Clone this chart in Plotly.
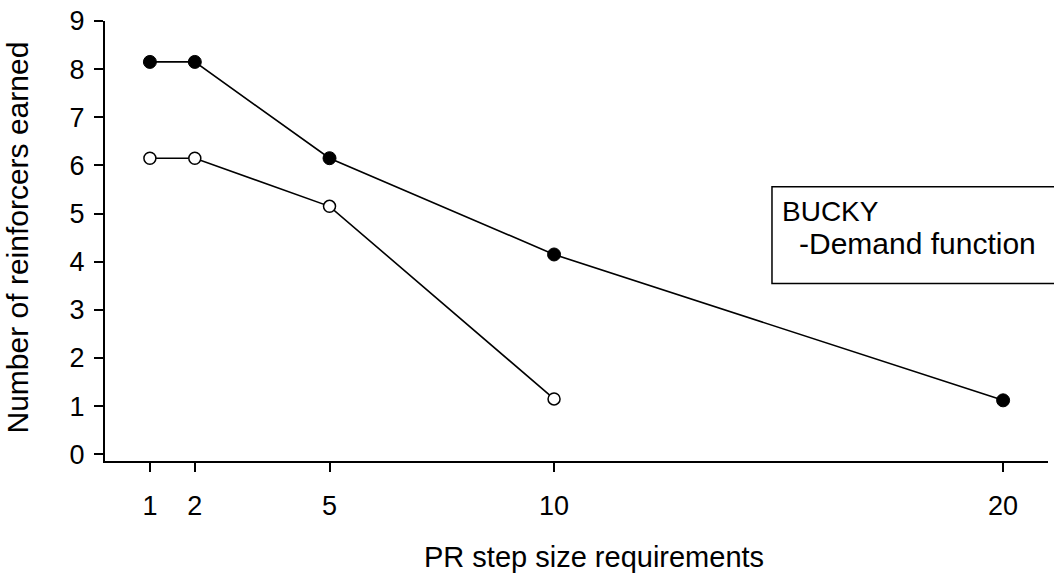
import plotly.graph_objects as go

# PR step sizes and reinforcers earned for each condition
step_sizes_filled = [1, 2, 5, 10, 20]
reinforcers_filled = [8.15, 8.15, 6.15, 4.15, 1.12]

step_sizes_open = [1, 2, 5, 10]
reinforcers_open = [6.15, 6.15, 5.15, 1.15]

x_ticks = [1, 2, 5, 10, 20]
y_ticks = [0, 1, 2, 3, 4, 5, 6, 7, 8, 9]

TICK_FONT = dict(family="Arial", size=27, color="black")
TEXT_FONT = "Arial"

fig = go.Figure()

fig.add_trace(go.Scatter(
    x=step_sizes_filled, y=reinforcers_filled, mode="lines+markers",
    line=dict(color="black", width=1.6),
    marker=dict(symbol="circle", size=13, color="black",
                line=dict(color="black", width=1)),
    showlegend=False, cliponaxis=False,
))

fig.add_trace(go.Scatter(
    x=step_sizes_open, y=reinforcers_open, mode="lines+markers",
    line=dict(color="black", width=1.6),
    marker=dict(symbol="circle", size=12, color="white",
                line=dict(color="black", width=1.5)),
    showlegend=False, cliponaxis=False,
))

fig.update_xaxes(
    range=[0, 21], tickvals=x_ticks, ticktext=[str(v) for v in x_ticks],
    showgrid=False, zeroline=False, showline=True, linecolor="black", linewidth=2,
    ticks="outside", ticklen=9, tickwidth=1.5, tickcolor="black",
    tickfont=TICK_FONT, ticklabelstandoff=11,
)
fig.update_yaxes(
    range=[-0.14, 9], tickvals=y_ticks,
    showgrid=False, zeroline=False, showline=True, linecolor="black", linewidth=2,
    ticks="outside", ticklen=9, tickwidth=1.5, tickcolor="black",
    tickfont=TICK_FONT, ticklabelstandoff=4,
)

# boxed label on the right
fig.add_shape(type="rect", xref="paper", yref="paper",
              x0=0.7073, x1=1.06, y0=0.4036, y1=0.6233,
              line=dict(color="black", width=1.5), fillcolor="white", layer="below")

annotations = [
    dict(text="BUCKY", x=0.7158, y=0.566, xanchor="left", yanchor="middle",
         font=dict(family=TEXT_FONT, size=28, color="black")),
    dict(text="-Demand function", x=0.7338, y=0.494, xanchor="left", yanchor="middle",
         font=dict(family=TEXT_FONT, size=30, color="black")),
    dict(text="PR step size requirements", x=0.5186, y=-0.219, xanchor="center", yanchor="middle",
         font=dict(family=TEXT_FONT, size=29, color="black")),
    dict(text="Number of reinforcers earned", x=-0.0933, y=0.508, xanchor="center", yanchor="middle",
         textangle=-90, font=dict(family=TEXT_FONT, size=30, color="black")),
]
for a in annotations:
    fig.add_annotation(xref="paper", yref="paper", showarrow=False, **a)

fig.update_layout(
    width=1054, height=577,
    margin=dict(l=105, r=6, t=15, b=116),
    paper_bgcolor="white", plot_bgcolor="white",
)

fig.write_html("out.html")
